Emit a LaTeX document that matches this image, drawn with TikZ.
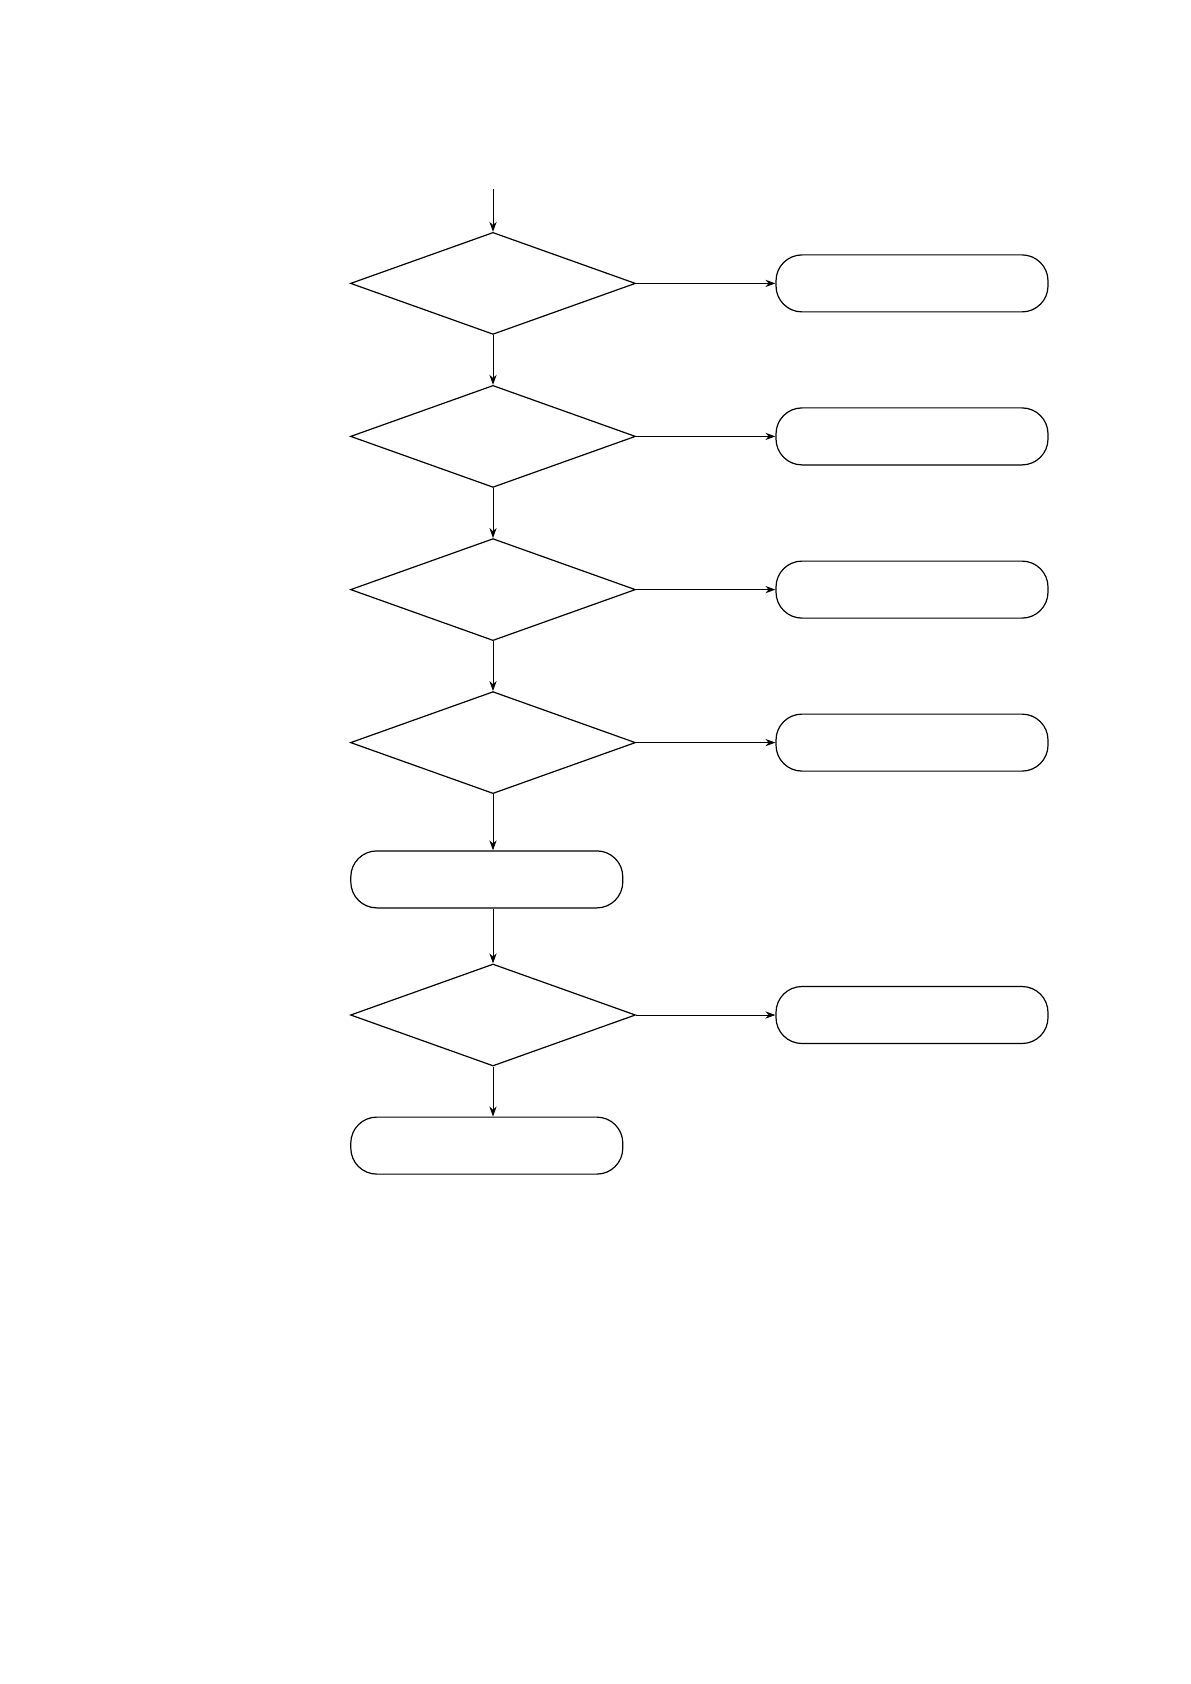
\documentclass[tikz,border=0pt]{standalone}
\usetikzlibrary{shapes.geometric,arrows.meta}
\begin{document}
\begin{tikzpicture}[
        x=1pt, y=1pt,
        test/.style={draw, diamond, semithick, minimum width=142.5pt, minimum height=51pt, inner sep=0pt},
        box/.style={draw, semithick, rounded corners=13pt, minimum width=136pt, minimum height=28.5pt},
        arrow/.style={-{Stealth[length=5pt,width=3.6pt]}}
    ]
        \useasboundingbox (0,0) rectangle (595,-842);

        % Decision column with exits to the right
        \coordinate (start) at (246.5,-94.5);
        \node[test] (test1) at (246.5,-141.7) {};
        \node[test] (test2) at (246.5,-218.2) {};
        \node[test] (test3) at (246.5,-294.8) {};
        \node[test] (test4) at (246.5,-371.3) {};
        \node[box] (exit1) at (456,-141.7) {};
        \node[box] (exit2) at (456,-218.2) {};
        \node[box] (exit3) at (456,-294.8) {};
        \node[box] (exit4) at (456,-371.3) {};

        % Lower part
        \node[box] (proc) at (243.4,-439.7) {};
        \node[test] (test5) at (246.5,-507.5) {};
        \node[box] (exit5) at (456,-507.5) {};
        \node[box] (done) at (243.4,-572.8) {};

        % Connect components with arrows
        \draw[arrow] (start) -- (test1);
        \draw[arrow] (test1) -- (test2);
        \draw[arrow] (test2) -- (test3);
        \draw[arrow] (test3) -- (test4);
        \draw[arrow] (test4) -- (test4 |- proc.north);
        \draw[arrow] (proc.south -| test5) -- (test5);
        \draw[arrow] (test5) -- (test5 |- done.north);
        \draw[arrow] (test1) -- (exit1);
        \draw[arrow] (test2) -- (exit2);
        \draw[arrow] (test3) -- (exit3);
        \draw[arrow] (test4) -- (exit4);
        \draw[arrow] (test5) -- (exit5);
    \end{tikzpicture}
\end{document}
